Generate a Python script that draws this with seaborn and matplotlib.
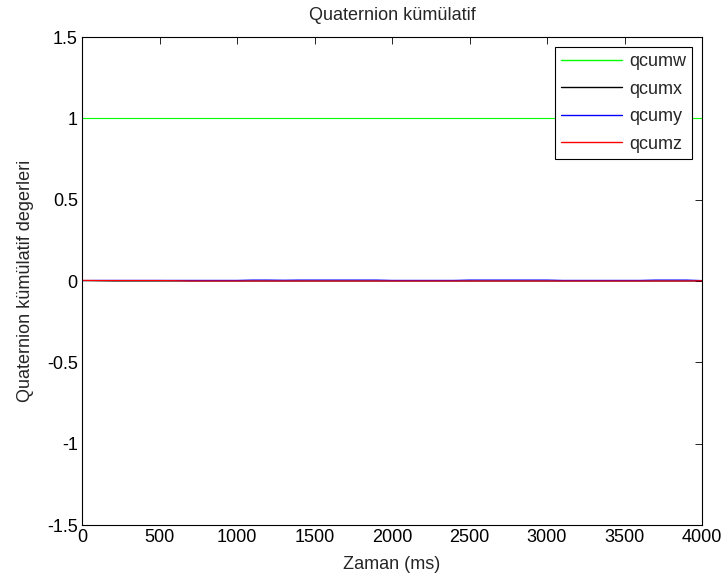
import numpy as np
import pandas as pd
import matplotlib
matplotlib.use("Agg")
import matplotlib.pyplot as plt
import seaborn as sns

# Data (time in ms)
time_ms = [0, 100, 200, 300, 400, 500, 600, 700, 800, 900, 1000,
           1100, 1200, 1300, 1400, 1500, 1600, 1700, 1800, 1900, 2000,
           2100, 2200, 2300, 2400, 2500, 2600, 2700, 2800, 2900, 3000,
           3100, 3200, 3300, 3400, 3500, 3600, 3700, 3800, 3900, 4000]
qcumw = [1.0, 1.0, 1.0, 1.0, 1.0, 1.0, 1.0, 1.0, 1.0, 1.0, 1.0,
         1.0, 1.0, 1.0, 1.0, 1.0, 1.0, 1.0, 1.0, 1.0, 1.0,
         1.0, 1.0, 1.0, 1.0, 1.0, 1.0, 1.0, 1.0, 1.0, 1.0,
         1.0, 1.0, 1.0, 1.0, 1.0, 1.0, 1.0, 1.0, 1.0, 1.0]
qcumx = [0.002, 0.001, 0.0, 0.0, 0.0, 0.0, 0.0, 0.0, 0.0, 0.0, 0.0,
         0.0, 0.0, 0.0, 0.0, 0.0, 0.0, 0.0, 0.0, 0.0, 0.0,
         0.0, 0.0, 0.0, 0.0, 0.0, 0.0, 0.0, 0.0, 0.0, 0.0,
         0.0, 0.0, 0.0, 0.0, 0.0, 0.0, 0.0, 0.0, 0.0, 0.0]
qcumy = [0.003, 0.004, 0.004, 0.004, 0.004, 0.004, 0.004, 0.004, 0.004, 0.004, 0.004,
         0.006, 0.006, 0.005, 0.006, 0.006, 0.006, 0.006, 0.006, 0.006, 0.004,
         0.004, 0.004, 0.004, 0.004, 0.006, 0.006, 0.006, 0.006, 0.006, 0.006,
         0.004, 0.004, 0.004, 0.004, 0.004, 0.004, 0.006, 0.006, 0.006, 0.003]
qcumz = [0.004, 0.003, 0.003, 0.003, 0.003, 0.003, 0.002, 0.0, 0.0, 0.0, 0.0,
         0.0, 0.0, 0.0, 0.0, 0.0, 0.0, 0.0, 0.0, 0.0, 0.0,
         0.0, 0.0, 0.0, 0.0, 0.0, 0.0, 0.0, 0.0, 0.0, 0.0,
         0.0, 0.0, 0.0, 0.0, 0.0, 0.0, 0.0, 0.0, 0.0, 0.002]

series_names = ["qcumw", "qcumx", "qcumy", "qcumz"]
series_vals = [qcumw, qcumx, qcumy, qcumz]
colors = ["#00ff00", "#000000", "#0000ff", "#ff0000"]
x_ticks = [0, 500, 1000, 1500, 2000, 2500, 3000, 3500, 4000]
y_ticks = [-1.5, -1, -0.5, 0, 0.5, 1, 1.5]
y_tick_labels = ["-1.5", "-1", "-0.5", "0", "0.5", "1", "1.5"]

sns.set_style("white")
plt.rcParams['font.family'] = ['Liberation Sans', 'DejaVu Sans']

fig = plt.figure(figsize=(7.23, 5.78), dpi=100)
ax = fig.add_axes([82/723, 1 - 525/578, 620/723, 488/578])

for name, vals, col in zip(series_names, series_vals, colors):
    df = pd.DataFrame({"t": time_ms, "v": vals})
    sns.lineplot(data=df, x="t", y="v", ax=ax, color=col, linewidth=0.8,
                 label=name, estimator=None, legend=False)

ax.set_xlim(0, 4000)
ax.set_ylim(-1.5, 1.5)
ax.set_xticks(x_ticks)
ax.set_xticklabels([str(t) for t in x_ticks])
ax.set_yticks(y_ticks)
ax.set_yticklabels(y_tick_labels)
ax.tick_params(direction="in", length=5, width=0.6, top=True, right=True,
               labelsize=13, colors="black", pad=3)
for s in ax.spines.values():
    s.set_visible(True)
    s.set_color("black")
    s.set_linewidth(0.8)

ax.set_title("Quaternion kümülatif", fontsize=13, pad=12)
ax.set_xlabel("Zaman (ms)", fontsize=13, labelpad=7)
ax.set_ylabel("Quaternion kümülatif degerleri", fontsize=13)
ax.yaxis.set_label_coords(-(82 - 34) / 620, 0.5)

handles = ax.get_lines()[:4]
leg = ax.legend(handles, series_names, loc="upper right", fontsize=13,
                frameon=True, fancybox=False,
                handlelength=3.4, borderaxespad=0.55, labelspacing=0.58,
                borderpad=0.35, handletextpad=0.35)
leg.get_frame().set_edgecolor("black")
leg.get_frame().set_linewidth(0.8)
leg.get_frame().set_alpha(1)
for ln, col in zip(leg.get_lines(), colors):
    ln.set_color(col)
    ln.set_linewidth(1.0)

fig.savefig("out.png", dpi=100)
